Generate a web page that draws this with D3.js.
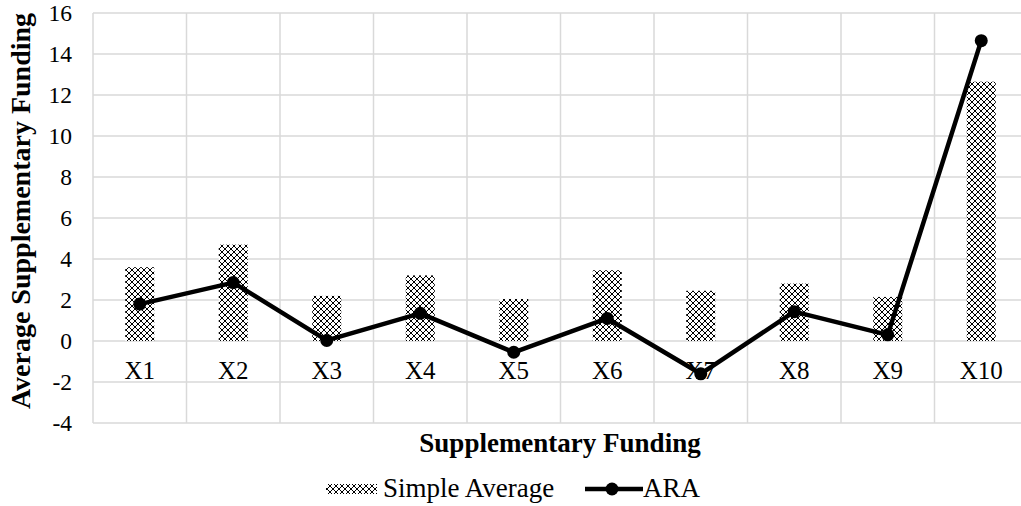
<!DOCTYPE html>
<html><head><meta charset="utf-8">
<script src="https://cdn.jsdelivr.net/npm/d3@7"></script>
<style>body{margin:0;background:#fff;overflow:hidden}svg{display:block}</style>
</head><body><svg id="c" width="1021" height="506" font-family="'Liberation Serif', 'Times New Roman', 'DejaVu Serif', serif"></svg>
<script>
const categories = ["X1","X2","X3","X4","X5","X6","X7","X8","X9","X10"];
const simpleAverage = [3.6, 4.7, 2.2, 3.2, 2.05, 3.45, 2.45, 2.8, 2.15, 12.65];
const ara = [1.8, 2.85, 0.03, 1.35, -0.55, 1.1, -1.6, 1.43, 0.3, 14.65];
const yTicks = [-4,-2,0,2,4,6,8,10,12,14,16];

const FONT = "'Liberation Serif', 'Times New Roman', 'DejaVu Serif', serif";
const svg = d3.select("#c");
const m = {l:93, t:13, r:1028, b:423};
const x = d3.scaleBand().domain(categories).range([m.l, m.r]);
const y = d3.scaleLinear().domain([-4,16]).range([m.b, m.t]);

const defs = svg.append("defs");
const pat = defs.append("pattern").attr("id","pat").attr("patternUnits","userSpaceOnUse")
  .attr("width",6).attr("height",6);
pat.append("rect").attr("width",6).attr("height",6).attr("fill","#fff");
for (let i=0;i<6;i++){
  pat.append("rect").attr("x",i).attr("y",i).attr("width",1).attr("height",1).attr("fill","#000");
  pat.append("rect").attr("x",5-i).attr("y",i).attr("width",1).attr("height",1).attr("fill","#000");
}

// grid
svg.append("g").selectAll("line").data(yTicks).join("line")
  .attr("x1",m.l).attr("x2",m.r).attr("y1",d=>y(d)).attr("y2",d=>y(d))
  .attr("stroke","#d9d9d9").attr("stroke-width",1.5);
const vlines = categories.map(c=>x(c)).concat([m.r]);
svg.append("g").selectAll("line").data(vlines).join("line")
  .attr("x1",d=>d).attr("x2",d=>d).attr("y1",m.t).attr("y2",m.b)
  .attr("stroke","#d9d9d9").attr("stroke-width",1.5);

// y tick labels
svg.append("g").selectAll("text").data(yTicks).join("text")
  .attr("x",72).attr("y",d=>y(d)).attr("dy","0.34em").attr("text-anchor","end")
  .attr("font-family",FONT).attr("font-size",23.5).text(d=>d);

// bars
const bw = 29;
svg.append("g").selectAll("rect").data(simpleAverage).join("rect")
  .attr("x",(d,i)=>x(categories[i])+x.bandwidth()/2-bw/2).attr("width",bw)
  .attr("y",d=>y(d)).attr("height",d=>y(0)-y(d)).attr("fill","url(#pat)");

// category labels
svg.append("g").selectAll("text").data(categories).join("text")
  .attr("x",d=>x(d)+x.bandwidth()/2).attr("y",y(0)+38).attr("text-anchor","middle")
  .attr("font-family",FONT).attr("font-size",25).text(d=>d);

// line
const line = d3.line().x((d,i)=>x(categories[i])+x.bandwidth()/2).y(d=>y(d));
svg.append("path").datum(ara).attr("d",line).attr("fill","none")
  .attr("stroke","#000").attr("stroke-width",4.5).attr("stroke-linejoin","round");
svg.append("g").selectAll("circle").data(ara).join("circle")
  .attr("cx",(d,i)=>x(categories[i])+x.bandwidth()/2).attr("cy",d=>y(d)).attr("r",6.5).attr("fill","#000");

// axis titles
svg.append("text").attr("x",560).attr("y",452).attr("text-anchor","middle")
  .attr("font-family",FONT).attr("font-size",27).attr("font-weight","bold").text("Supplementary Funding");
svg.append("text").attr("transform","translate(30,211) rotate(-90)").attr("text-anchor","middle")
  .attr("font-family",FONT).attr("font-size",28).attr("font-weight","bold").text("Average Supplementary Funding");

// legend
const lg = svg.append("g");
lg.append("rect").attr("x",326).attr("y",484).attr("width",51).attr("height",10).attr("fill","url(#pat)");
lg.append("text").attr("x",383).attr("y",497).attr("font-family",FONT).attr("font-size",27).text("Simple Average");
lg.append("line").attr("x1",585).attr("x2",643).attr("y1",489).attr("y2",489).attr("stroke","#000").attr("stroke-width",4.5);
lg.append("circle").attr("cx",612).attr("cy",489).attr("r",6.5).attr("fill","#000");
lg.append("text").attr("x",643).attr("y",497).attr("font-family",FONT).attr("font-size",27).text("ARA");
</script></body></html>
